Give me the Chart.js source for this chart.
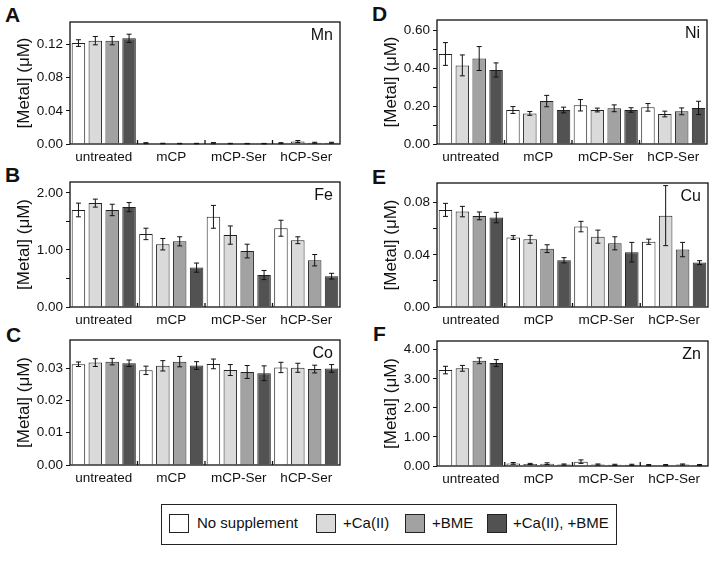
<!DOCTYPE html>
<html>
<head>
<meta charset="utf-8">
<script src="https://cdn.jsdelivr.net/npm/chart.js@4/dist/chart.umd.min.js"></script>
<style>
body{margin:0;background:#fff;width:713px;height:562px;position:relative;overflow:hidden;font-family:"Liberation Sans",Arial,sans-serif;color:#111}
canvas{position:absolute}
.letter{position:absolute;font-weight:bold;font-size:21px;line-height:20px}
#legend{position:absolute;left:161px;top:504px;width:454px;height:39px;border:1.5px solid #222}
.sw{position:absolute;top:9px;width:18px;height:17px;border:1.5px solid #222}
.lt{position:absolute;top:8px;font-size:15px;line-height:20px;white-space:nowrap}
</style>
</head>
<body>
<div class="letter" style="left:5px;top:5px">A</div>
<div class="letter" style="left:372px;top:4px">D</div>
<div class="letter" style="left:5px;top:165px">B</div>
<div class="letter" style="left:372px;top:167px">E</div>
<div class="letter" style="left:6px;top:325px">C</div>
<div class="letter" style="left:373px;top:324px">F</div>

<div id="legend">
  <div class="sw" style="left:7px;background:#ffffff"></div><div class="lt" style="left:35px">No supplement</div>
  <div class="sw" style="left:154px;background:#dadada"></div><div class="lt" style="left:181px">+Ca(II)</div>
  <div class="sw" style="left:243px;background:#a2a2a2"></div><div class="lt" style="left:270px">+BME</div>
  <div class="sw" style="left:325px;background:#525252"></div><div class="lt" style="left:351px">+Ca(II), +BME</div>
</div>

<script>
// categories and series
var categories = ['untreated', 'mCP', 'mCP-Ser', 'hCP-Ser']
var seriesNames = ['No supplement', '+Ca(II)', '+BME', '+Ca(II), +BME']
var seriesColors = ['#ffffff', '#dadada', '#a2a2a2', '#525252']

// values per series (rows) for each category (columns), in uM
var mnValues = [
  [0.1216, 0.0010, 0.0010, 0.0010],
  [0.1245, 0.0006, 0.0005, 0.0030],
  [0.1245, 0.0005, 0.0004, 0.0015],
  [0.1273, 0.0005, 0.0004, 0.0015]
]
var mnErrors = [
  [0.004, 0.0006, 0.0007, 0.0006],
  [0.005, 0.0003, 0.0003, 0.0012],
  [0.005, 0.0003, 0.0003, 0.0006],
  [0.005, 0.0003, 0.0003, 0.0006]
]
var feValues = [
  [1.70, 1.28, 1.58, 1.38],
  [1.82, 1.10, 1.26, 1.17],
  [1.70, 1.15, 0.98, 0.82],
  [1.75, 0.69, 0.56, 0.54]
]
var feErrors = [
  [0.12, 0.10, 0.20, 0.14],
  [0.07, 0.10, 0.16, 0.06],
  [0.10, 0.08, 0.12, 0.10],
  [0.08, 0.08, 0.08, 0.05]
]
var coValues = [
  [0.0312, 0.0293, 0.0313, 0.0302],
  [0.0317, 0.0307, 0.0294, 0.0301],
  [0.0320, 0.0320, 0.0288, 0.0297],
  [0.0315, 0.0308, 0.0284, 0.0299]
]
var coErrors = [
  [0.0007, 0.0013, 0.0015, 0.0016],
  [0.0012, 0.0016, 0.0017, 0.0014],
  [0.0010, 0.0016, 0.0020, 0.0012],
  [0.0010, 0.0012, 0.0023, 0.0012]
]
var niValues = [
  [0.474, 0.179, 0.204, 0.193],
  [0.414, 0.161, 0.179, 0.158],
  [0.450, 0.226, 0.188, 0.172],
  [0.390, 0.179, 0.179, 0.190]
]
var niErrors = [
  [0.060, 0.018, 0.030, 0.020],
  [0.055, 0.010, 0.010, 0.015],
  [0.063, 0.030, 0.018, 0.018],
  [0.037, 0.015, 0.012, 0.035]
]
var cuValues = [
  [0.0744, 0.0532, 0.0616, 0.0500],
  [0.0731, 0.0519, 0.0539, 0.0700],
  [0.0698, 0.0447, 0.0488, 0.0440],
  [0.0685, 0.0358, 0.0420, 0.0340]
]
var cuErrors = [
  [0.0050, 0.0015, 0.0040, 0.0020],
  [0.0040, 0.0030, 0.0050, 0.0230],
  [0.0030, 0.0030, 0.0050, 0.0055],
  [0.0040, 0.0020, 0.0075, 0.0015]
]
var znValues = [
  [3.30, 0.09, 0.15, 0.03],
  [3.36, 0.07, 0.05, 0.03],
  [3.62, 0.08, 0.04, 0.05],
  [3.54, 0.05, 0.04, 0.03]
]
var znErrors = [
  [0.13, 0.03, 0.06, 0.02],
  [0.10, 0.02, 0.02, 0.02],
  [0.10, 0.03, 0.02, 0.02],
  [0.12, 0.02, 0.02, 0.02]
]

var FONT = '"Liberation Sans", Arial, sans-serif'

// error bars drawn from the y scale
var errorBars = {
  id: 'errorBars',
  afterDatasetsDraw(chart) {
    var ctx = chart.ctx, y = chart.scales.y
    ctx.save()
    ctx.strokeStyle = '#111'
    ctx.lineWidth = 1
    chart.data.datasets.forEach(function (ds, i) {
      chart.getDatasetMeta(i).data.forEach(function (bar, j) {
        var v = ds.data[j], e = ds.errors[j]
        var top = y.getPixelForValue(v + e), bot = y.getPixelForValue(Math.max(0, v - e))
        ctx.beginPath()
        ctx.moveTo(bar.x, top); ctx.lineTo(bar.x, bot)
        ctx.moveTo(bar.x - 2.5, top); ctx.lineTo(bar.x + 2.5, top)
        ctx.moveTo(bar.x - 2.5, bot); ctx.lineTo(bar.x + 2.5, bot)
        ctx.stroke()
      })
    })
    ctx.restore()
  }
}

// frame round the plot, inward category ticks, metal name
var frame = {
  id: 'frame',
  afterDraw(chart, args, opts) {
    var ctx = chart.ctx, a = chart.chartArea, x = chart.scales.x
    ctx.save()
    ctx.strokeStyle = '#111'
    ctx.lineWidth = 1.3
    ctx.strokeRect(a.left, a.top, a.right - a.left, a.bottom - a.top)
    for (var i = 1; i < chart.data.labels.length; i++) {
      var px = (x.getPixelForValue(i - 1) + x.getPixelForValue(i)) / 2
      ctx.beginPath(); ctx.moveTo(px, a.bottom); ctx.lineTo(px, a.bottom - 4); ctx.stroke()
    }
    ctx.font = '16px ' + FONT
    ctx.fillStyle = '#111'
    ctx.textAlign = 'right'
    ctx.textBaseline = 'alphabetic'
    ctx.fillText(opts.metal, a.right - 7, a.top + 18)
    ctx.restore()
  }
}

function makePanel(metal, values, errors, box, max, step, major) {
  var w = box[2] - box[0] + 66, h = box[3] - box[1] + 38
  var canvas = document.createElement('canvas')
  canvas.width = w
  canvas.height = h
  canvas.style.left = (box[0] - 60) + 'px'
  canvas.style.top = (box[1] - 12) + 'px'
  document.body.appendChild(canvas)

  var datasets = seriesNames.map(function (name, i) {
    return {
      label: name,
      data: values[i],
      errors: errors[i],
      backgroundColor: seriesColors[i],
      borderColor: '#222',
      borderWidth: 1,
      barPercentage: 0.8,
      categoryPercentage: 1
    }
  })

  new Chart(canvas, {
    type: 'bar',
    data: { labels: categories, datasets: datasets },
    plugins: [errorBars, frame],
    options: {
      responsive: false,
      animation: false,
      layout: { padding: { top: 12, right: 6, left: 0, bottom: 0 } },
      plugins: { legend: { display: false }, tooltip: { enabled: false }, frame: { metal: metal } },
      scales: {
        x: {
          grid: { display: false, drawTicks: false },
          border: { display: false },
          ticks: { color: '#111', padding: 5, font: { family: FONT, size: 13.5 } },
          afterFit: function (s) { s.height = 26 }
        },
        y: {
          min: 0,
          max: max,
          grid: { drawOnChartArea: false, drawTicks: true, tickLength: 4, color: '#111' },
          border: { display: false },
          ticks: {
            stepSize: step,
            includeBounds: false,
            color: '#111',
            padding: 3,
            font: { family: FONT, size: 13.5 },
            callback: function (v) {
              var r = v / major
              return Math.abs(r - Math.round(r)) < 1e-6 ? v.toFixed(2) : ''
            }
          },
          title: { display: true, text: '[Metal] (\u03bcM)', color: '#111', font: { family: FONT, size: 17 } },
          afterFit: function (s) { s.width = 60 }
        }
      }
    }
  })
}

makePanel('Mn', mnValues, mnErrors, [70, 22, 340, 144], 0.147, 0.02, 0.04)
makePanel('Fe', feValues, feErrors, [70, 182, 340, 307], 2.19, 0.5, 1)
makePanel('Co', coValues, coErrors, [70, 340, 340, 465], 0.0387, 0.005, 0.01)
makePanel('Ni', niValues, niErrors, [437, 20, 707, 144], 0.653, 0.1, 0.2)
makePanel('Cu', cuValues, cuErrors, [437, 183, 708, 307], 0.095, 0.02, 0.04)
makePanel('Zn', znValues, znErrors, [437, 341, 708, 466], 4.3, 0.5, 1)
</script>
</body>
</html>
